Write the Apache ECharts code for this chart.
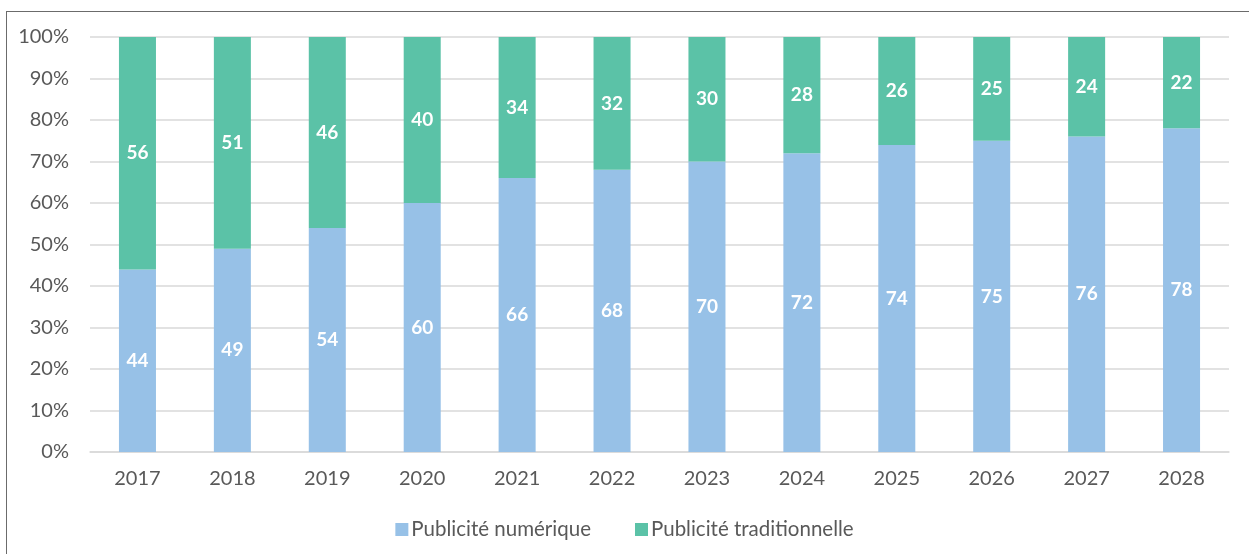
<!DOCTYPE html>
<html><head><meta charset="utf-8">
<script src="https://cdn.jsdelivr.net/npm/echarts@6/dist/echarts.min.js"></script>
<style>
html,body{margin:0;padding:0;background:#fff;overflow:hidden;}
#frame{position:absolute;left:6px;top:11px;width:1400px;height:700px;border-left:1.5px solid #6b6b6b;border-top:1.5px solid #6b6b6b;}
#c{position:absolute;left:0;top:0;width:1249px;height:554px;}
</style></head>
<body>
<div id="frame"></div>
<div id="c"></div>
<script>
const categories = ['2017','2018','2019','2020','2021','2022','2023','2024','2025','2026','2027','2028'];
const numerique = [44,49,54,60,66,68,70,72,74,75,76,78];
const traditionnelle = [56,51,46,40,34,32,30,28,26,25,24,22];
const seriesNames = ['Publicité numérique','Publicité traditionnelle'];
const yTicks = [0,10,20,30,40,50,60,70,80,90,100];

const chart = echarts.init(document.getElementById('c'), null, {renderer:'canvas'});
const font = 'Lato, Open Sans, sans-serif';
const lbl = {show:true, position:'inside', color:'#fff', fontWeight:'bold', fontSize:19, fontFamily:font};
chart.setOption({
  animation:false,
  backgroundColor:'transparent',
  grid:{left:90, right:20, top:37, bottom:102, containLabel:false},
  legend:{bottom:9, left:'center', itemWidth:13, itemHeight:13, itemGap:44, icon:'rect',
    textStyle:{color:'#595959', fontSize:20.5, fontFamily:font, padding:[0,0,0,-2]}, data:seriesNames},
  xAxis:{type:'category', data:categories,
    axisLine:{lineStyle:{color:'#d9d9d9', width:1.5}}, axisTick:{show:false},
    axisLabel:{color:'#595959', fontSize:20, fontFamily:font, margin:17}},
  yAxis:{type:'value', min:0, max:100, interval:10,
    axisLine:{show:false}, axisTick:{show:false},
    splitLine:{lineStyle:{color:'#d9d9d9', width:1.5}},
    axisLabel:{color:'#595959', fontSize:20, fontFamily:font, margin:21,
      formatter:v => yTicks.includes(v) ? v + '%' : ''}},
  series:[
    {name:seriesNames[0], type:'bar', stack:'s', data:numerique, barWidth:'39%',
      itemStyle:{color:'#97c1e7'}, label:lbl},
    {name:seriesNames[1], type:'bar', stack:'s', data:traditionnelle, barWidth:'39%',
      itemStyle:{color:'#5bc2a7'}, label:lbl}
  ]
});
</script>
</body></html>
